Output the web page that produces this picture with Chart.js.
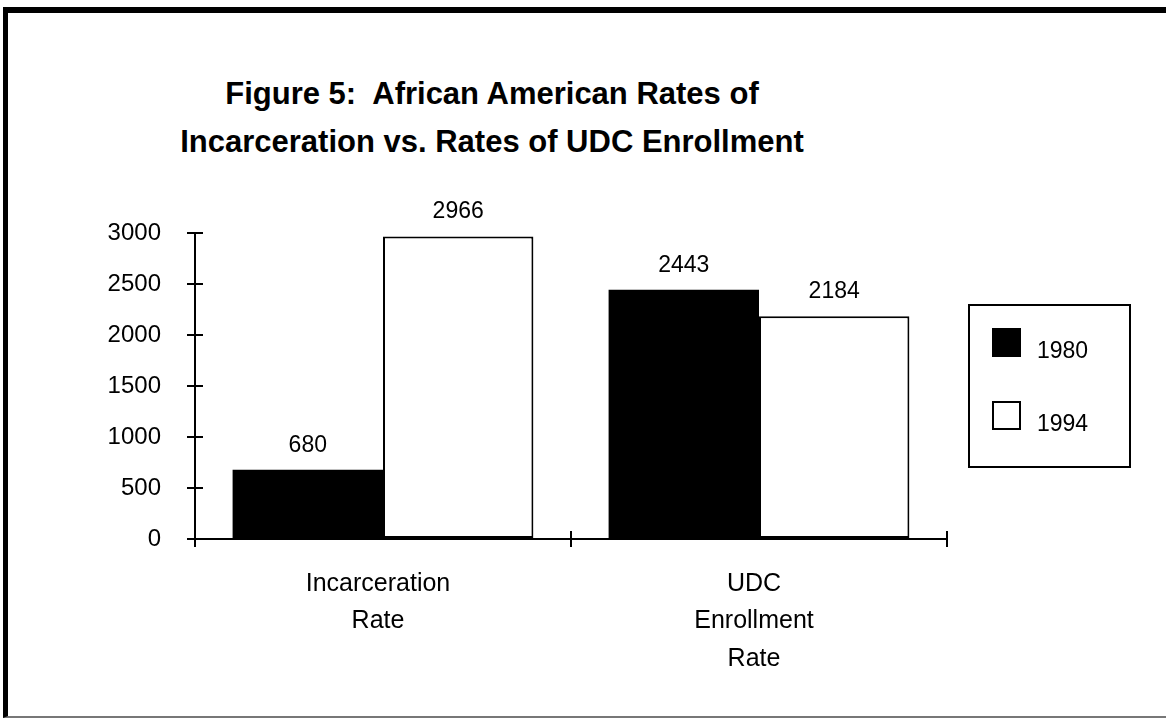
<!DOCTYPE html>
<html>
<head>
<meta charset="utf-8">
<script src="https://cdn.jsdelivr.net/npm/chart.js@4.4.1/dist/chart.umd.min.js"></script>
<style>
    body { margin: 0; background: #fff; overflow: hidden; }
    #marco {
        position: absolute; left: 3px; top: 7px; width: 1180px; height: 711px;
        box-sizing: border-box;
        border-top: 6px solid #000; border-left: 5px solid #000; border-bottom: 2px solid #777;
    }
    #titulo {
        position: absolute; left: 0; top: 70px; width: 984px;
        text-align: center; white-space: pre;
        font: bold 31px "Liberation Sans", Arial, sans-serif; line-height: 48px; color: #000;
    }
    #grafico { position: absolute; left: 0; top: 0; }
</style>
</head>
<body>
<div id="marco"></div>
<div id="titulo">Figure 5:  African American Rates of
Incarceration vs. Rates of UDC Enrollment</div>
<canvas id="grafico" width="1166" height="719"></canvas>
<script>
// Datos del gráfico
const categorias = [['Incarceration', 'Rate'], ['UDC', 'Enrollment', 'Rate']];
const series = ['1980', '1994'];
const valores1980 = [680, 2443];
const valores1994 = [2966, 2184];
const ejeY = { min: 0, max: 3000, paso: 500 };

const fuente = '"Liberation Sans", Arial, sans-serif';

// Marcas de los ejes que cruzan hacia dentro
const marcasInternas = {
    id: 'marcasInternas',
    afterDraw(chart) {
        const { ctx, scales: { x, y } } = chart;
        ctx.save();
        ctx.strokeStyle = '#000';
        ctx.lineWidth = 2;
        ctx.beginPath();
        y.ticks.forEach((t, i) => {
            const py = y.getPixelForTick(i);
            ctx.moveTo(x.left, py);
            ctx.lineTo(x.left + 8, py);
        });
        for (let i = 0; i <= categorias.length; i++) {
            const px = x.getPixelForValue(i - 0.5);
            ctx.moveTo(px, y.bottom);
            ctx.lineTo(px, y.bottom - 8);
        }
        ctx.stroke();
        ctx.restore();
    }
};

// Valores encima de cada barra
const etiquetasValores = {
    id: 'etiquetasValores',
    afterDatasetsDraw(chart) {
        const ctx = chart.ctx;
        ctx.save();
        ctx.fillStyle = '#000';
        ctx.font = '23px ' + fuente;
        ctx.textAlign = 'center';
        ctx.textBaseline = 'alphabetic';
        chart.data.datasets.forEach((ds, i) => {
            chart.getDatasetMeta(i).data.forEach((barra, j) => {
                ctx.fillText(String(ds.data[j]), barra.x, barra.y - 18);
            });
        });
        ctx.restore();
    }
};

// Leyenda con recuadro a la derecha
const leyendaCaja = {
    id: 'leyendaCaja',
    afterDraw(chart) {
        const { ctx, chartArea } = chart;
        const izq = chartArea.right + 22;
        const arriba = (chartArea.top + chartArea.bottom) / 2 - 81;
        ctx.save();
        ctx.strokeStyle = '#000';
        ctx.lineWidth = 2;
        ctx.strokeRect(izq, arriba, 161, 162);
        ctx.font = '23px ' + fuente;
        ctx.textAlign = 'left';
        ctx.textBaseline = 'alphabetic';
        chart.data.datasets.forEach((ds, i) => {
            const yy = arriba + 23 + i * 73;
            ctx.fillStyle = ds.backgroundColor;
            ctx.fillRect(izq + 23, yy, 29, 29);
            ctx.strokeRect(izq + 24, yy + 1, 27, 27);
            ctx.fillStyle = '#000';
            ctx.fillText(ds.label, izq + 68, yy + 30);
        });
        ctx.restore();
    }
};

const ctx = document.getElementById('grafico').getContext('2d');
const grafico = new Chart(ctx, {
    type: 'bar',
    data: {
        labels: categorias,
        datasets: [{
            label: series[0],
            data: valores1980,
            backgroundColor: '#000',
            borderWidth: 0
        }, {
            label: series[1],
            data: valores1994,
            backgroundColor: '#fff',
            borderColor: '#000',
            borderWidth: 2,
            borderSkipped: false
        }]
    },
    options: {
        responsive: false,
        animation: false,
        categoryPercentage: 0.8,
        barPercentage: 1.0,
        layout: { padding: { top: 233, right: 219, bottom: 0, left: 0 } },
        plugins: {
            legend: { display: false },
            tooltip: { enabled: false },
            title: { display: false }
        },
        scales: {
            x: {
                afterFit: (s) => { s.height = 180; },
                grid: { display: true, drawOnChartArea: false, drawTicks: true, tickLength: 8, color: '#000', lineWidth: 2 },
                border: { display: true, color: '#000', width: 2 },
                ticks: {
                    color: '#000',
                    font: { family: fuente, size: 25, lineHeight: 1.5 },
                    padding: 18,
                    labelOffset: -5,
                    maxRotation: 0,
                    autoSkip: false
                }
            },
            y: {
                min: ejeY.min,
                max: ejeY.max,
                afterFit: (s) => { s.width = 195; },
                grid: { display: true, drawOnChartArea: false, drawTicks: true, tickLength: 8, color: '#000', lineWidth: 2 },
                border: { display: true, color: '#000', width: 2 },
                ticks: {
                    stepSize: ejeY.paso,
                    color: '#000',
                    font: { family: fuente, size: 24 },
                    padding: 26,
                    callback: (v) => String(v)
                }
            }
        }
    },
    plugins: [marcasInternas, etiquetasValores, leyendaCaja]
});
</script>
</body>
</html>
